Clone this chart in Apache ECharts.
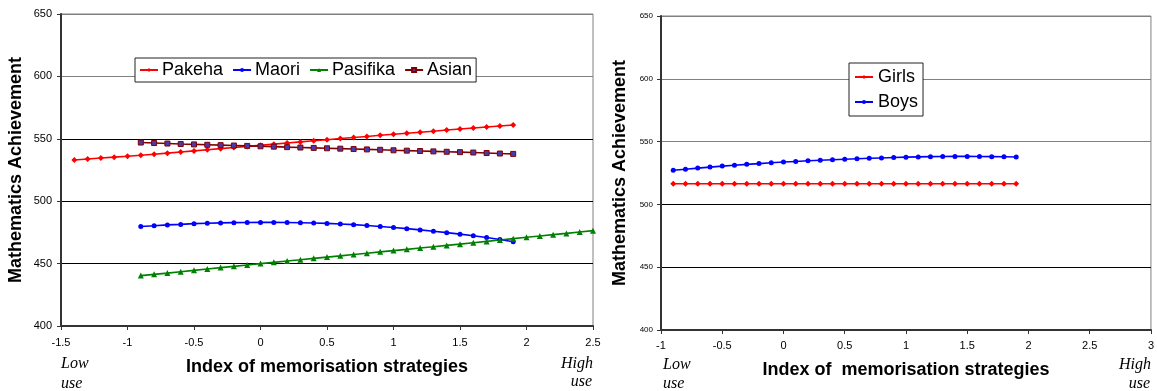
<!DOCTYPE html>
<html>
<head>
<meta charset="utf-8">
<script src="https://cdn.jsdelivr.net/npm/echarts@6/dist/echarts.min.js"></script>
<style>
html,body{margin:0;padding:0;background:#fff;}
#chart{width:1157px;height:391px;}
</style>
</head>
<body>
<div id="chart"></div>
<script>
// ---- data ----
const xPakeha = [-1.4,-1.3,-1.2,-1.1,-1.0,-0.9,-0.8,-0.7,-0.6,-0.5,-0.4,-0.3,-0.2,-0.1,0,0.1,0.2,0.3,0.4,0.5,0.6,0.7,0.8,0.9,1.0,1.1,1.2,1.3,1.4,1.5,1.6,1.7,1.8,1.9];
const pakeha = [533.0,533.8,534.6,535.3,536.0,536.8,537.6,538.5,539.4,540.3,541.2,542.1,543.0,543.9,544.8,545.7,546.6,547.5,548.4,549.3,550.2,551.0,551.9,552.8,553.6,554.5,555.3,556.1,557.0,557.8,558.6,559.4,560.2,561.0];

const xGroup = [-0.9,-0.8,-0.7,-0.6,-0.5,-0.4,-0.3,-0.2,-0.1,0,0.1,0.2,0.3,0.4,0.5,0.6,0.7,0.8,0.9,1.0,1.1,1.2,1.3,1.4,1.5,1.6,1.7,1.8,1.9];
const maori = [479.7,480.3,481.0,481.4,482.0,482.3,482.6,482.8,482.9,483.0,483.0,482.9,482.7,482.5,482.2,481.7,481.2,480.5,479.7,478.9,478.0,477.0,475.9,474.8,473.6,472.3,470.9,469.3,467.5];
const asian = [547.0,546.6,546.2,545.8,545.5,545.2,544.9,544.6,544.3,544.0,543.7,543.3,543.0,542.7,542.4,542.1,541.8,541.5,541.2,540.8,540.5,540.2,539.9,539.6,539.3,539.0,538.6,538.2,537.9];

const xPasifika = [-0.9,-0.8,-0.7,-0.6,-0.5,-0.4,-0.3,-0.2,-0.1,0,0.1,0.2,0.3,0.4,0.5,0.6,0.7,0.8,0.9,1.0,1.1,1.2,1.3,1.4,1.5,1.6,1.7,1.8,1.9,2.0,2.1,2.2,2.3,2.4,2.5];
const pasifika = [440.4,441.4,442.4,443.5,444.6,445.7,446.8,447.8,448.9,450.0,451.0,452.1,453.1,454.2,455.2,456.2,457.3,458.3,459.4,460.4,461.4,462.5,463.5,464.6,465.6,466.7,467.8,468.9,470.0,471.1,472.1,473.2,474.2,475.3,476.4];

const girls = [516.5,516.5,516.5,516.5,516.5,516.5,516.5,516.5,516.5,516.5,516.5,516.5,516.5,516.5,516.5,516.5,516.5,516.5,516.5,516.5,516.5,516.5,516.5,516.5,516.5,516.5,516.5,516.5,516.5];
const boys = [527.2,528.0,528.9,529.7,530.5,531.2,531.9,532.5,533.1,533.7,534.2,534.7,535.2,535.6,536.0,536.4,536.7,537.0,537.3,537.6,537.8,538.0,538.1,538.2,538.2,538.1,538.0,537.9,537.7];

const ethnicNames = ['Pakeha','Maori','Pasifika','Asian'];
const genderNames = ['Girls','Boys'];
const yTitle = 'Mathematics Achievement';
const xTitleLeft = 'Index of memorisation strategies';
const xTitleRight = 'Index of  memorisation strategies';

function pairs(xs, ys){ return xs.map((x,i)=>[x, ys[i]]); }

const SANS = '"Liberation Sans", Arial, sans-serif';
const SERIF = '"Liberation Serif", "Times New Roman", serif';

function xAxisCfg(gridIndex, min, max, name, nameGap, labelMargin){
  return {
    type:'value', gridIndex, min, max, interval:0.5,
    name, nameLocation:'middle', nameGap,
    nameTextStyle:{fontFamily:SANS, fontSize:18, fontWeight:'bold', color:'#000'},
    axisLine:{show:true, onZero:false, lineStyle:{color:'#333', width:2}},
    axisTick:{show:true, inside:false, length:4, lineStyle:{color:'#333', width:1}},
    axisLabel:{fontFamily:SANS, fontSize:11, color:'#000', margin:labelMargin},
    splitLine:{show:false}
  };
}
function yAxisCfg(gridIndex, gridColors, labelSize, nameGap, labelMargin){
  return {
    type:'value', gridIndex, min:400, max:650, interval:50,
    name:yTitle, nameLocation:'middle', nameGap,
    nameTextStyle:{fontFamily:SANS, fontSize:18, fontWeight:'bold', color:'#000'},
    axisLine:{show:true, onZero:false, lineStyle:{color:'#333', width:2}},
    axisTick:{show:true, inside:false, length:4, lineStyle:{color:'#333', width:1}},
    axisLabel:{fontFamily:SANS, fontSize:labelSize, color:'#000', margin:labelMargin},
    splitLine:{show:true, lineStyle:{color:gridColors, width:1}}
  };
}
function lineSeries(name, data, xi, color, symbol, size, extra){
  return Object.assign({
    name, type:'line', data, xAxisIndex:xi, yAxisIndex:xi,
    symbol, symbolSize:size, showSymbol:true, smooth:false,
    lineStyle:{color, width:1.6},
    itemStyle:{color, borderColor:color, borderWidth:0},
    animation:false, z:3
  }, extra||{});
}

const option = {
  backgroundColor:'#fff',
  animation:false,
  grid:[
    {left:61, top:14, width:532, height:312, show:true, borderColor:'#808080', borderWidth:1, backgroundColor:'transparent'},
    {left:661, top:16, width:490, height:314, show:true, borderColor:'#808080', borderWidth:1, backgroundColor:'transparent'}
  ],
  xAxis:[
    xAxisCfg(0, -1.5, 2.5, xTitleLeft, 32, 11),
    xAxisCfg(1, -1, 3, xTitleRight, 31, 10)
  ],
  yAxis:[
    yAxisCfg(0, ['#000','#000','#000','#000','#808080','#808080'], 11, 36, 9),
    yAxisCfg(1, ['#000','#000','#000','#808080','#808080','#808080'], 8, 32, 8)
  ],
  legend:[
    {data:ethnicNames, left:135, top:58, orient:'horizontal',
     backgroundColor:'#fff', borderColor:'#222', borderWidth:1,
     padding:[3,4,3,4], itemGap:9, itemWidth:18, itemHeight:5,
     textStyle:{fontFamily:SANS, fontSize:18, color:'#000', padding:[0,0,0,-1]}},
    {data:genderNames, left:849, top:63, orient:'vertical',
     backgroundColor:'#fff', borderColor:'#222', borderWidth:1,
     padding:[5,5,5,5], itemGap:7, itemWidth:18, itemHeight:5,
     textStyle:{fontFamily:SANS, fontSize:18, color:'#000'}}
  ],
  series:[
    lineSeries('Pakeha', pairs(xPakeha, pakeha), 0, '#ff0000', 'diamond', 6),
    lineSeries('Maori', pairs(xGroup, maori), 0, '#0000ff', 'circle', 5),
    lineSeries('Pasifika', pairs(xPasifika, pasifika), 0, '#008000', 'triangle', 6),
    lineSeries('Asian', pairs(xGroup, asian), 0, '#800000', 'rect', 5,
      {itemStyle:{color:'#4a3aa8', borderColor:'#800000', borderWidth:1}}),
    lineSeries('Girls', pairs(xGroup, girls), 1, '#ff0000', 'diamond', 6),
    lineSeries('Boys', pairs(xGroup, boys), 1, '#0000ff', 'circle', 5)
  ],
  graphic:[
    {type:'text', left:61, top:356, style:{text:'Low', font:'italic 16px '+SERIF, fill:'#000'}},
    {type:'text', left:61, top:376, style:{text:'use', font:'italic 16px '+SERIF, fill:'#000'}},
    {type:'text', right:1157-593, top:356, style:{text:'High', font:'italic 16px '+SERIF, fill:'#000'}},
    {type:'text', right:1157-592, top:374, style:{text:'use', font:'italic 16px '+SERIF, fill:'#000'}},
    {type:'text', left:663, top:357, style:{text:'Low', font:'italic 16px '+SERIF, fill:'#000'}},
    {type:'text', left:663, top:376, style:{text:'use', font:'italic 16px '+SERIF, fill:'#000'}},
    {type:'text', right:6, top:357, style:{text:'High', font:'italic 16px '+SERIF, fill:'#000'}},
    {type:'text', right:7, top:376, style:{text:'use', font:'italic 16px '+SERIF, fill:'#000'}}
  ]
};

const chart = echarts.init(document.getElementById('chart'), null, {renderer:'canvas'});
chart.setOption(option);
</script>
</body>
</html>
